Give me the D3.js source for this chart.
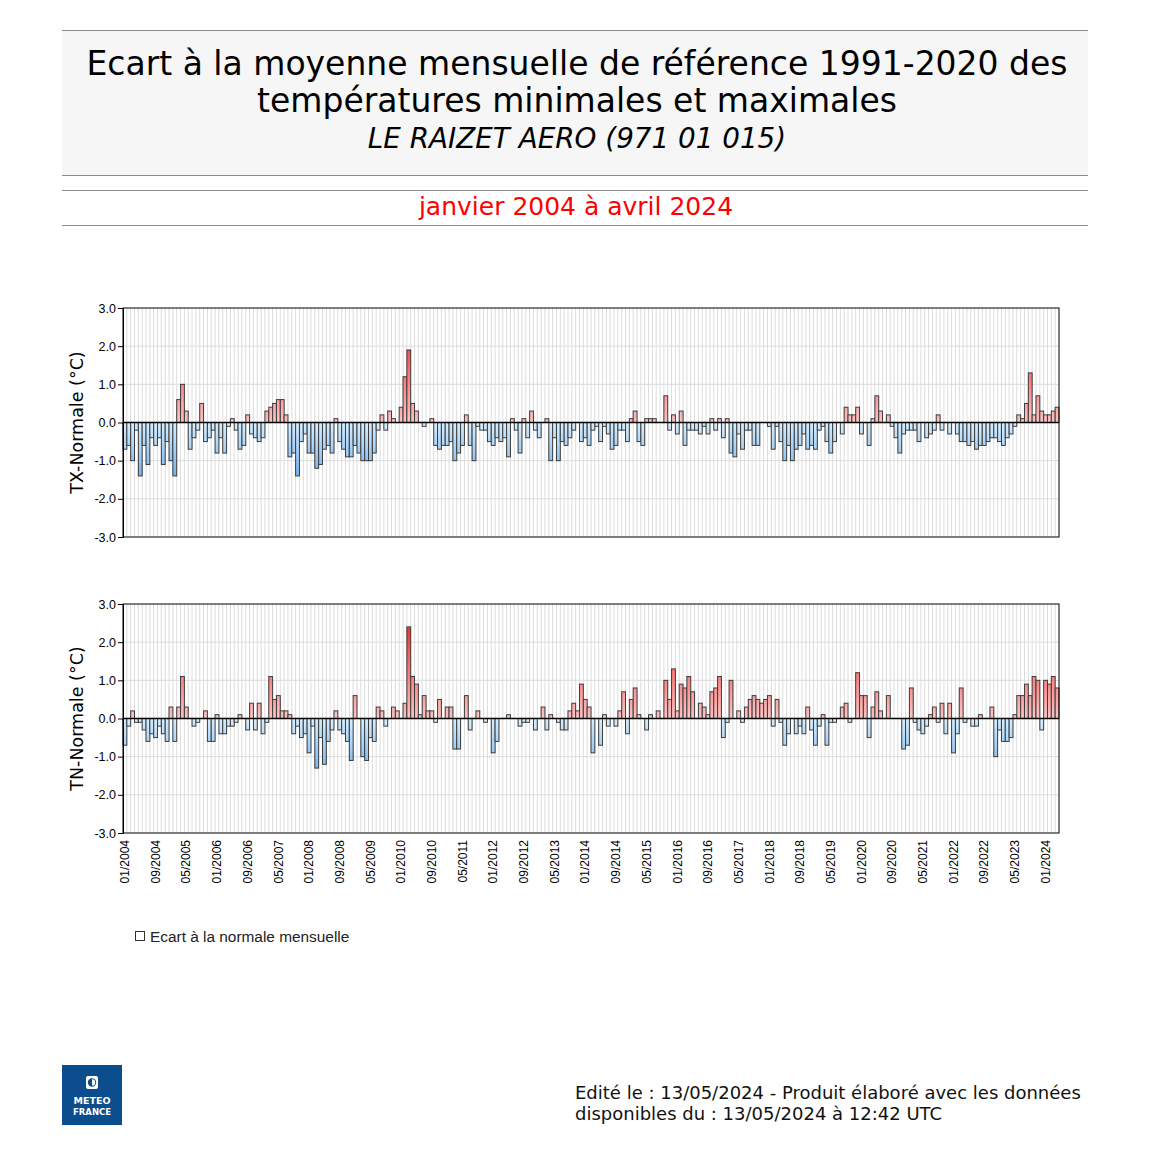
<!DOCTYPE html>
<html><head><meta charset="utf-8">
<script src="https://cdn.jsdelivr.net/npm/d3@7"></script>
<style>body{margin:0;background:#fff}</style>
</head><body>
<svg id="c" width="1150" height="1150"></svg>
<script>
// ---- data ----
const years = d3.range(2004, 2025);
const monthNums = ["01","02","03","04","05","06","07","08","09","10","11","12"];
const months = [];
years.forEach(y => monthNums.forEach(m => { if (y < 2024 || +m <= 4) months.push(m + "/" + y); }));

const txValues = [
 -0.7,-0.6,-1.0,-0.2,-1.4,-0.6,-1.1,-0.4,-0.6,-0.4,-1.1,-0.5,
 -1.0,-1.4,0.6,1.0,0.3,-0.7,-0.4,-0.2,0.5,-0.5,-0.4,-0.2,
 -0.8,-0.4,-0.8,-0.1,0.1,-0.2,-0.7,-0.6,0.2,-0.3,-0.4,-0.5,
 -0.4,0.3,0.4,0.5,0.6,0.6,0.2,-0.9,-0.8,-1.4,-0.5,-0.3,
 -0.8,-0.8,-1.2,-1.1,-0.7,-0.6,-0.8,0.1,-0.5,-0.7,-0.9,-0.9,
 -0.6,-0.8,-1.0,-1.0,-1.0,-0.8,-0.2,0.2,-0.2,0.3,0.1,0.0,
 0.4,1.2,1.9,0.5,0.3,0.0,-0.1,0.0,0.1,-0.6,-0.7,-0.6,
 -0.6,-0.5,-1.0,-0.8,-0.6,0.2,-0.6,-1.0,-0.1,-0.2,-0.2,-0.5,
 -0.6,-0.4,-0.5,-0.4,-0.9,0.1,-0.2,-0.8,0.1,-0.4,0.3,-0.2,
 -0.4,0.0,0.1,-1.0,-0.4,-1.0,-0.5,-0.6,-0.4,-0.2,0.0,-0.5,
 -0.4,-0.6,-0.2,-0.1,-0.5,-0.1,-0.3,-0.7,-0.6,-0.2,-0.2,-0.5,
 0.1,0.3,-0.5,-0.6,0.1,0.1,0.1,0.0,0.0,0.7,-0.2,0.2,
 -0.3,0.3,-0.6,-0.2,-0.2,-0.2,-0.3,-0.1,-0.3,0.1,-0.2,0.1,
 -0.4,0.1,-0.8,-0.9,-0.3,-0.7,-0.2,-0.2,-0.6,-0.6,0.0,0.0,
 -0.1,-0.7,-0.1,-0.5,-1.0,-0.6,-1.0,-0.7,-0.6,-0.3,-0.7,-0.6,
 -0.7,-0.2,-0.1,-0.5,-0.8,-0.5,0.0,-0.3,0.4,0.2,0.2,0.4,
 -0.3,0.0,-0.6,0.1,0.7,0.3,0.0,0.2,-0.1,-0.4,-0.8,-0.3,
 -0.2,-0.2,-0.2,-0.5,0.0,-0.4,-0.3,-0.2,0.2,-0.2,0.0,-0.3,
 0.0,-0.3,-0.5,-0.5,-0.6,-0.5,-0.7,-0.6,-0.6,-0.5,-0.4,-0.4,
 -0.5,-0.6,-0.4,-0.3,-0.1,0.2,0.1,0.5,1.3,0.2,0.7,0.3,
 0.2,0.2,0.3,0.4
];

const tnValues = [
 -0.7,-0.2,0.2,-0.1,-0.1,-0.3,-0.6,-0.4,-0.5,-0.2,-0.4,-0.6,
 0.3,-0.6,0.3,1.1,0.3,0.0,-0.2,-0.1,0.0,0.2,-0.6,-0.6,
 0.1,-0.4,-0.4,-0.2,-0.2,-0.1,0.1,0.0,-0.3,0.4,-0.3,0.4,
 -0.4,-0.1,1.1,0.5,0.6,0.2,0.2,0.1,-0.4,-0.2,-0.5,-0.4,
 -0.9,-0.2,-1.3,-0.5,-1.2,-0.6,-0.3,0.2,-0.3,-0.4,-0.6,-1.1,
 0.6,0.0,-1.0,-1.1,-0.5,-0.6,0.3,0.2,-0.2,0.0,0.3,0.2,
 0.0,0.4,2.4,1.1,0.9,0.1,0.6,0.2,0.2,-0.1,0.5,0.0,
 0.3,0.3,-0.8,-0.8,0.0,0.6,-0.3,0.0,0.2,0.0,-0.1,0.0,
 -0.9,-0.6,0.0,0.0,0.1,0.0,0.0,-0.2,-0.1,-0.1,0.0,-0.3,
 0.0,0.3,-0.3,0.1,0.0,-0.1,-0.3,-0.3,0.2,0.4,0.2,0.9,
 0.5,0.3,-0.9,0.0,-0.7,0.1,-0.2,0.0,-0.2,0.2,0.7,-0.4,
 0.5,0.8,0.1,0.0,-0.3,0.1,0.0,0.2,0.0,1.0,0.5,1.3,
 0.2,0.9,0.8,1.1,0.7,0.0,0.4,0.3,0.1,0.7,0.8,1.1,
 -0.5,-0.1,1.0,0.0,0.2,-0.1,0.3,0.5,0.6,0.5,0.4,0.5,
 0.6,-0.2,0.5,-0.1,-0.7,-0.4,0.0,-0.4,-0.2,-0.4,0.3,-0.3,
 -0.7,-0.2,0.1,-0.7,-0.1,-0.1,0.0,0.3,0.4,-0.1,0.0,1.2,
 0.6,0.6,-0.5,0.3,0.7,0.2,0.0,0.6,0.0,0.0,0.0,-0.8,
 -0.7,0.8,-0.1,-0.3,-0.4,-0.2,0.1,0.3,-0.1,0.4,-0.4,0.4,
 -0.9,-0.4,0.8,-0.1,0.0,-0.2,-0.2,0.1,0.0,0.0,0.3,-1.0,
 -0.3,-0.6,-0.6,-0.5,0.1,0.6,0.6,0.9,0.6,1.1,1.0,-0.3,
 1.0,0.9,1.1,0.8
];

const xTickLabels = ["01/2004","09/2004","05/2005","01/2006","09/2006","05/2007","01/2008","09/2008",
 "05/2009","01/2010","09/2010","05/2011","01/2012","09/2012","05/2013","01/2014","09/2014","05/2015",
 "01/2016","09/2016","05/2017","01/2018","09/2018","05/2019","01/2020","09/2020","05/2021","01/2022",
 "09/2022","05/2023","01/2024"];
const yTicks = [-3,-2,-1,0,1,2,3];

const titleLines = ["Ecart à la moyenne mensuelle de référence 1991-2020 des", "températures minimales et maximales"];
const stationName = "LE RAIZET AERO (971 01 015)";
const periodText = "janvier 2004 à avril 2024";
const legendText = "Ecart à la normale mensuelle";
const footerLines = ["Edité le : 13/05/2024 - Produit élaboré avec les données", "disponibles du : 13/05/2024 à 12:42 UTC"];

// ---- drawing ----
const svg = d3.select("#c");
const defs = svg.append("defs");

// header
svg.append("rect").attr("x",62).attr("y",30).attr("width",1026).attr("height",145).attr("fill","#f6f6f6");
[30,175,190,225].forEach(y => svg.append("line").attr("x1",62).attr("x2",1088).attr("y1",y+0.5).attr("y2",y+0.5).attr("stroke","#8a8a8a").attr("stroke-width",1));
svg.append("text").attr("x",577).attr("y",75).attr("text-anchor","middle").attr("font-family","DejaVu Sans").attr("font-size",33).attr("fill","#000").text(titleLines[0]);
svg.append("text").attr("x",577).attr("y",112).attr("text-anchor","middle").attr("font-family","DejaVu Sans").attr("font-size",33).attr("fill","#000").text(titleLines[1]);
svg.append("text").attr("x",577).attr("y",148).attr("text-anchor","middle").attr("font-family","DejaVu Sans").attr("font-style","italic").attr("font-size",27.8).attr("fill","#000").text(stationName);
svg.append("text").attr("x",576).attr("y",215).attr("text-anchor","middle").attr("font-family","DejaVu Sans").attr("font-size",25).attr("fill","#ff0000").text(periodText);

const x = d3.scaleBand().domain(months).range([123,1059]).padding(0);

function panel(top, bottom, values, id, label, showX) {
  const y = d3.scaleLinear().domain([-3,3]).range([bottom, top]);
  const g = svg.append("g");
  // gradients
  const gp = defs.append("linearGradient").attr("id","pos"+id).attr("gradientUnits","userSpaceOnUse")
    .attr("x1",0).attr("x2",0).attr("y1",y(0)).attr("y2",y(3));
  gp.append("stop").attr("offset","0%").attr("stop-color","#fcc4c4");
  gp.append("stop").attr("offset","100%").attr("stop-color","#ff0808");
  const gn = defs.append("linearGradient").attr("id","neg"+id).attr("gradientUnits","userSpaceOnUse")
    .attr("x1",0).attr("x2",0).attr("y1",y(0)).attr("y2",y(-3));
  gn.append("stop").attr("offset","0%").attr("stop-color","#d8efff");
  gn.append("stop").attr("offset","100%").attr("stop-color","#0070e0");

  // grid
  g.append("g").selectAll("line").data(months.slice(1)).join("line")
    .attr("x1", d => x(d)).attr("x2", d => x(d)).attr("y1", top).attr("y2", bottom)
    .attr("stroke","#dcdcdc").attr("stroke-width",1);
  g.append("g").selectAll("line").data([-2,-1,1,2]).join("line")
    .attr("x1",123).attr("x2",1059).attr("y1", d => y(d)).attr("y2", d => y(d))
    .attr("stroke","#dcdcdc").attr("stroke-width",1);

  // bars
  const data = months.map((m,i) => ({m, v: values[i]})).filter(d => d.v !== 0);
  g.append("g").selectAll("rect").data(data).join("rect")
    .attr("x", d => x(d.m)).attr("width", x.bandwidth())
    .attr("y", d => Math.min(y(d.v), y(0))).attr("height", d => Math.abs(y(d.v) - y(0)))
    .attr("fill", d => d.v > 0 ? `url(#pos${id})` : `url(#neg${id})`)
    .attr("stroke","#3c3c3c").attr("stroke-width",1);

  // zero line
  g.append("line").attr("x1",123).attr("x2",1059).attr("y1",y(0)).attr("y2",y(0)).attr("stroke","#000").attr("stroke-width",1.5);
  // frame
  g.append("rect").attr("x",123).attr("y",top).attr("width",936).attr("height",bottom-top)
    .attr("fill","none").attr("stroke","#000").attr("stroke-width",1);

  // y axis
  const ay = g.append("g").attr("transform","translate(123,0)")
    .call(d3.axisLeft(y).tickValues(yTicks).tickSize(5).tickPadding(2).tickFormat(v => v.toFixed(1)));
  ay.select(".domain").attr("stroke","#000");
  ay.selectAll("text").attr("font-family","Liberation Sans").attr("font-size",12.5).attr("fill","#000");
  ay.selectAll("line").attr("stroke","#000");

  g.append("text").attr("transform",`translate(83,${(top+bottom)/2}) rotate(-90)`).attr("text-anchor","middle")
    .attr("font-family","DejaVu Sans").attr("font-size",17.5).attr("fill","#000").text(label);

  if (showX) {
    const ax = g.append("g").attr("transform",`translate(0,${bottom})`)
      .call(d3.axisBottom(x).tickValues(xTickLabels).tickSize(0).tickPadding(0));
    ax.select(".domain").remove();
    ax.selectAll("text").attr("font-family","Liberation Sans").attr("font-size",12).attr("fill","#000")
      .attr("text-anchor","end").attr("transform","rotate(-90)").attr("x",-7).attr("y",0).attr("dy","0.35em");
  }
}

panel(308, 537, txValues, "tx", "TX-Normale (°C)", false);
panel(604, 833, tnValues, "tn", "TN-Normale (°C)", true);

// legend
svg.append("rect").attr("x",135.5).attr("y",931.5).attr("width",9).attr("height",9).attr("fill","#fff").attr("stroke","#333");
svg.append("text").attr("x",150).attr("y",942).attr("font-family","Liberation Sans").attr("font-size",15.4).attr("fill","#222").text(legendText);

// footer
footerLines.forEach((t,i) => svg.append("text").attr("x",575).attr("y",1099 + i*21).attr("font-family","DejaVu Sans").attr("font-size",18).attr("fill","#111").text(t));

// logo
const lg = svg.append("g");
lg.append("rect").attr("x",62).attr("y",1065).attr("width",60).attr("height",60).attr("fill","#0b4d8d");
lg.append("rect").attr("x",86).attr("y",1076).attr("width",12).attr("height",13).attr("rx",2).attr("fill","#fff");
lg.append("circle").attr("cx",92).attr("cy",1082.5).attr("r",4.2).attr("fill","#0b4d8d");
lg.append("path").attr("d","M92,1079.3 A3.2,3.2 0 0,1 92,1085.7 Z").attr("fill","#fff");
lg.append("text").attr("x",92).attr("y",1104).attr("text-anchor","middle").attr("font-family","DejaVu Sans").attr("font-weight","bold").attr("font-size",9.5).attr("fill","#fff").text("METEO");
lg.append("text").attr("x",92).attr("y",1115).attr("text-anchor","middle").attr("font-family","DejaVu Sans").attr("font-weight","bold").attr("font-size",8.5).attr("fill","#fff").text("FRANCE");
</script>
</body></html>
